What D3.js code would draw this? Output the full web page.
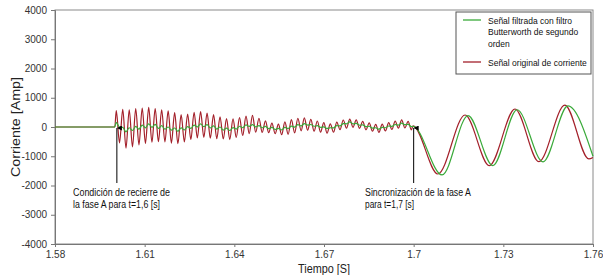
<!DOCTYPE html>
<html>
<head>
<meta charset="utf-8">
<script src="https://cdn.jsdelivr.net/npm/d3@7"></script>
<style>
  body { margin: 0; background: #fff; }
  .narrow { font-family: "Liberation Sans", Arial, sans-serif; }
  .tick text { font-family: "Liberation Sans", Arial, sans-serif; font-size: 10px; fill: #333; }
</style>
</head>
<body>
<div id="chart"></div>
<script>

	// time of every extreme of the high frequency ripple between 1.6 s and 1.7 s (peak, trough, peak, ...)
	var rippleTime = [
		1.60050, 1.60158, 1.60267, 1.60375, 1.60484, 1.60592, 1.60701, 1.60809, 1.60918, 1.61026,
		1.61135, 1.61243, 1.61352, 1.61460, 1.61569, 1.61677, 1.61786, 1.61894, 1.62003, 1.62111,
		1.62220, 1.62328, 1.62437, 1.62545, 1.62654, 1.62762, 1.62871, 1.62979, 1.63088, 1.63196,
		1.63305, 1.63413, 1.63522, 1.63630, 1.63739, 1.63847, 1.63956, 1.64064, 1.64173, 1.64281,
		1.64390, 1.64498, 1.64607, 1.64715, 1.64824, 1.64932, 1.65041, 1.65149, 1.65258, 1.65366,
		1.65475, 1.65583, 1.65692, 1.65800, 1.65909, 1.66017, 1.66126, 1.66234, 1.66343, 1.66451,
		1.66560, 1.66668, 1.66777, 1.66885, 1.66994, 1.67102, 1.67211, 1.67319, 1.67428, 1.67536,
		1.67645, 1.67753, 1.67862, 1.67970, 1.68079, 1.68187, 1.68296, 1.68404, 1.68513, 1.68621,
		1.68730, 1.68838, 1.68947, 1.69055, 1.69164, 1.69272, 1.69381, 1.69489, 1.69598, 1.69706,
		1.69815, 1.69923
	];

	// original current [Amp] at those instants
	var rippleOriginal = [
		560, -540, 600, -720, 590, -680, 630, -610, 650, -560,
		670, -520, 630, -500, 590, -510, 550, -550, 490, -570,
		420, -510, 445, -430, 500, -375, 525, -355, 475, -380,
		420, -400, 350, -410, 290, -430, 275, -355, 320, -290,
		370, -225, 395, -180, 300, -185, 210, -195, 135, -230,
		95, -265, 175, -250, 250, -200, 300, -130, 310, -110,
		260, -145, 205, -175, 150, -210, 105, -180, 170, -90,
		240, -40, 270, -10, 245, -45, 190, -95, 140, -145,
		90, -185, 100, -135, 150, -85, 200, -40, 245, -35,
		195, -95
	];

	// filtered current [Amp] at the same instants
	var rippleFiltered = [
		160, -10, -15, -165, -25, -120, 20, -75, 65, -30,
		110, -10, 90, -50, 45, -75, 0, -105, -35, -145,
		-30, -100, 15, -50, 65, 0, 110, 10, 80, -30,
		40, -70, 0, -105, -40, -120, -20, -70, 25, -25,
		70, 20, 80, 5, 50, -25, 20, -55, -10, -85,
		-45, -100, -15, -50, 30, -5, 80, 40, 115, 65,
		85, 25, 45, -15, 5, -50, -25, -30, 45, 40,
		115, 110, 175, 110, 125, 60, 75, 10, 25, -40,
		-25, -75, -10, -25, 35, 20, 85, 65, 130, 80,
		90, 15
	];

	// before reclosing (flat) and at the synchronisation instant
	var startTime = [1.58, 1.6];
	var startValue = [0, 0];
	var syncTime = 1.6998;
	var syncOriginal = 40;
	var syncFiltered = 20;

	// 60 Hz swing after synchronisation (extremes)
	var afterTimeOriginal = [1.7081, 1.7172, 1.7253, 1.7339, 1.7419, 1.7506, 1.7586, 1.76];
	var afterOriginal = [-1607, 410, -1320, 615, -1185, 750, -1090, -1040];
	var afterTimeFiltered = [1.7095, 1.7182, 1.7265, 1.7346, 1.7433, 1.7516, 1.76];
	var afterFiltered = [-1640, 390, -1320, 590, -1190, 720, -1000];

	var xTicks = [1.58, 1.61, 1.64, 1.67, 1.7, 1.73, 1.76];
	var yTicks = [4000, 3000, 2000, 1000, 0, -1000, -2000, -3000, -4000];

	var legendLabels = [
		{ lines: ["Señal filtrada con filtro", "Butterworth de segundo", "orden"], color: "#3aaa3a" },
		{ lines: ["Señal original de corriente"], color: "#a3202a" }
	];

	///////////////////////////////////////////////////////////////////////////
	//////////////////////////////// Set up svg ///////////////////////////////
	///////////////////////////////////////////////////////////////////////////

	var width = 603, height = 275;
	var margin = { top: 10, right: 10, bottom: 31, left: 55 };

	var svg = d3.select("#chart").append("svg")
		.attr("width", width)
		.attr("height", height);

	var x = d3.scaleLinear().domain([1.58, 1.76]).range([margin.left, width - margin.right]);
	var y = d3.scaleLinear().domain([-4000, 4000]).range([height - margin.bottom, margin.top]);

	function build(times, values) {
		return times.map(function(t, i) { return { t: t, v: values[i] }; });
	}

	var original = build(startTime, startValue)
		.concat(build(rippleTime, rippleOriginal))
		.concat([{ t: syncTime, v: syncOriginal }])
		.concat(build(afterTimeOriginal, afterOriginal));

	var filtered = build(startTime, startValue)
		.concat(build(rippleTime, rippleFiltered))
		.concat([{ t: syncTime, v: syncFiltered }])
		.concat(build(afterTimeFiltered, afterFiltered));

	///////////////////////////////////////////////////////////////////////////
	/////////////////////////////////// Axes //////////////////////////////////
	///////////////////////////////////////////////////////////////////////////

	// frame
	svg.append("rect")
		.attr("x", x(1.58)).attr("y", y(4000))
		.attr("width", x(1.76) - x(1.58)).attr("height", y(-4000) - y(4000))
		.style("fill", "none").style("stroke", "#8a8a8a").style("stroke-width", 1);

	svg.append("g")
		.attr("transform", "translate(0," + y(-4000) + ")")
		.call(d3.axisBottom(x).tickValues(xTicks).tickSize(3).tickPadding(4)
			.tickFormat(function(d) { return String(+d.toFixed(2)); }));

	svg.append("g")
		.attr("transform", "translate(" + x(1.58) + ",0)")
		.call(d3.axisLeft(y).tickValues(yTicks).tickSize(4).tickPadding(4)
			.tickFormat(function(d) { return String(d); }));

	svg.selectAll(".domain").style("stroke", "#777");
	svg.selectAll(".tick line").style("stroke", "#777");

	svg.append("text")
		.attr("class", "narrow")
		.attr("transform", "translate(20," + y(0) + ") rotate(-90)")
		.attr("text-anchor", "middle")
		.attr("textLength", 100).attr("lengthAdjust", "spacingAndGlyphs")
		.style("font-size", "13px").style("fill", "#222")
		.text("Corriente [Amp]");

	svg.append("text")
		.attr("class", "narrow")
		.attr("x", 298).attr("y", 273)
		.attr("textLength", 52).attr("lengthAdjust", "spacingAndGlyphs")
		.style("font-size", "12px").style("fill", "#222")
		.text("Tiempo [S]");

	///////////////////////////////////////////////////////////////////////////
	/////////////////////////////////// Lines /////////////////////////////////
	///////////////////////////////////////////////////////////////////////////

	var line = d3.line()
		.curve(d3.curveMonotoneX)
		.x(function(d) { return x(d.t); })
		.y(function(d) { return y(d.v); });

	svg.append("path")
		.datum(original)
		.attr("d", line)
		.style("fill", "none").style("stroke", legendLabels[1].color).style("stroke-width", 1.2);

	svg.append("path")
		.datum(filtered)
		.attr("d", line)
		.style("fill", "none").style("stroke", legendLabels[0].color).style("stroke-width", 1.2);

	///////////////////////////////////////////////////////////////////////////
	//////////////////////////////// Annotations //////////////////////////////
	///////////////////////////////////////////////////////////////////////////

	var defs = svg.append("defs");
	defs.append("marker")
		.attr("id", "arrow")
		.attr("viewBox", "0 0 6 6")
		.attr("refX", 3).attr("refY", 0)
		.attr("markerWidth", 5).attr("markerHeight", 5)
		.attr("orient", "auto-start-reverse")
		.append("path")
		.attr("d", "M0,6 L3,0 L6,6 Z")
		.style("fill", "#000");

	var notes = [
		{ t: 1.6007, v: 0, lines: ["Condición de recierre de", "la fase A para t=1,6 [s]"], tx: 73, widths: [97, 87] },
		{ t: 1.7, v: 0, lines: ["Sincronización de la fase A", "para t=1,7 [s]"], tx: 365, widths: [106, 49] }
	];

	notes.forEach(function(n) {
		svg.append("line")
			.attr("x1", x(n.t)).attr("x2", x(n.t))
			.attr("y1", 183).attr("y2", y(n.v) + 1)
			.style("stroke", "#000").style("stroke-width", 1)
			.attr("marker-end", "url(#arrow)");
		n.lines.forEach(function(l, i) {
			svg.append("text")
				.attr("class", "narrow")
				.attr("x", n.tx).attr("y", 196 + i * 12)
				.attr("textLength", n.widths[i]).attr("lengthAdjust", "spacingAndGlyphs")
				.style("font-size", "10px").style("fill", "#111")
				.text(l);
		});
	});

	///////////////////////////////////////////////////////////////////////////
	/////////////////////////////////// Legend ////////////////////////////////
	///////////////////////////////////////////////////////////////////////////

	var legend = svg.append("g").attr("transform", "translate(456,12)");

	legend.append("rect")
		.attr("width", 135).attr("height", 62)
		.style("fill", "#fff").style("stroke", "#555").style("stroke-width", 1);

	var rowY = [8, 50];
	legendLabels.forEach(function(d, i) {
		legend.append("line")
			.attr("x1", 7).attr("x2", 25)
			.attr("y1", rowY[i]).attr("y2", rowY[i])
			.style("stroke", d.color).style("stroke-width", 1.3);
		d.lines.forEach(function(l, j) {
			legend.append("text")
				.attr("class", "narrow")
				.attr("x", 32).attr("y", rowY[i] + 3.5 + j * 11.7)
				.style("font-size", "8.5px").style("fill", "#111")
				.text(l);
		});
	});

</script>
</body>
</html>
